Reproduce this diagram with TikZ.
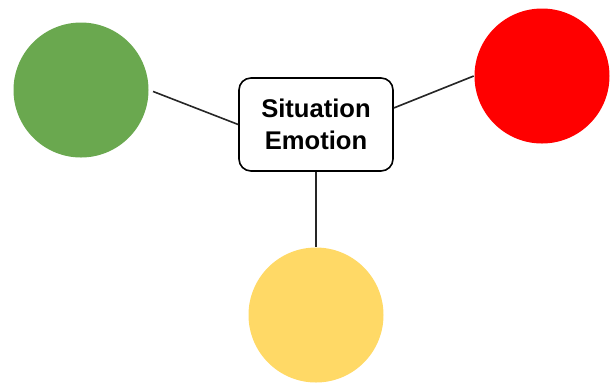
\documentclass[tikz,border=0pt]{standalone}
\usepackage{fontspec}
\setsansfont{Liberation Sans}
\definecolor{moodgreen}{RGB}{106,168,79}
\definecolor{moodred}{RGB}{255,0,0}
\definecolor{moodyellow}{RGB}{255,217,102}
\begin{document}
\begin{tikzpicture}[x=0.5pt,y=-0.5pt,
  thick,mood node/.style={circle,minimum size=67.5pt,inner sep=0pt},
  main node/.style={draw,rounded corners=6pt,align=center,minimum width=77pt,minimum height=46.5pt,font=\sffamily\bfseries\fontsize{12.8}{16}\selectfont}]
  \useasboundingbox (0,0) rectangle (611,382);

  \node[mood node,fill=moodgreen] (green) at (81,90) {};
  \node[mood node,fill=moodred] (red) at (542,76) {};
  \node[mood node,fill=moodyellow] (yellow) at (316,315) {};
  \node[main node] (box) at (316,124.5) {Situation\\Emotion};

  \path[every edge/.style={draw,black!85}]
   (green.east) edge[shorten <=2pt] (box.west)
   (box.12) edge (red.west)
   (box.south) edge (yellow.north);
\end{tikzpicture}
\end{document}
